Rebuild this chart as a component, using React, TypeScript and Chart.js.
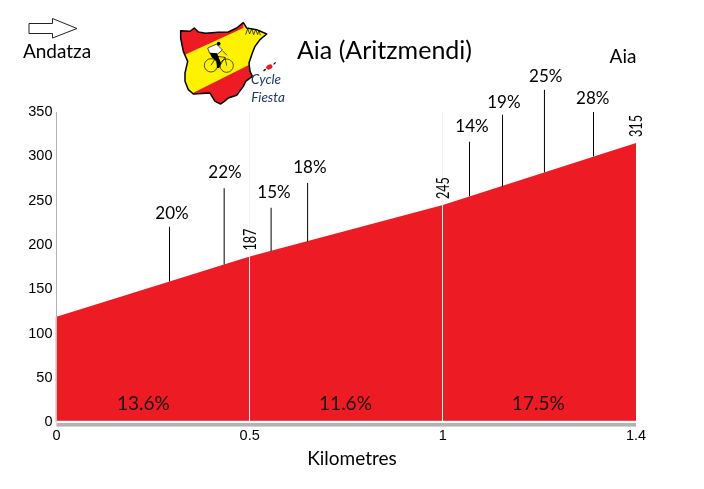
import React, { useEffect, useRef } from 'react';
import { Chart, Plugin, registerables } from 'chart.js';

Chart.register(...registerables);

// The plot axis is evenly spaced per section, the last tick just reads 1.4
const profileKm = [0, 0.5, 1, 1.5];
const profileAltitude = [119, 187, 245, 315];
const xTickLabels = ['0', '0.5', '1', '1.4'];
const yTickValues = [0, 50, 100, 150, 200, 250, 300, 350];

const altitudeLabels = ['187', '245', '315'];
const altitudeLabelKm = [0.5, 1, 1.5];
const altitudeLabelValue = [187, 245, 315];

const sectionGradients = ['13.6%', '11.6%', '17.5%'];
const sectionLabelKm = [0.225, 0.748, 1.247];

const spikeKm = [0.2925, 0.434, 0.5555, 0.65, 1.069, 1.1545, 1.263, 1.39];
const spikeBase = [159, 178, 193, 204, 255, 266, 282, 300];
const spikeTop = [220.5, 264, 242, 270, 316.5, 347, 375, 350];
const spikeGradients = ['20%', '22%', '15%', '18%', '14%', '19%', '25%', '28%'];
const spikeLabelKm = [0.299, 0.436, 0.563, 0.656, 1.0755, 1.158, 1.2665, 1.388];
const spikeLabelValue = [236, 281.5, 259, 287, 333.5, 360.5, 390, 365];

const TITLE = 'Aia (Aritzmendi)';
const START_NAME = 'Andatza';
const END_NAME = 'Aia';
const X_TITLE = 'Kilometres';

const RED = '#ed1c24';
const CALIBRI_LIKE = 'Lato, "Open Sans", sans-serif';
const ARIAL_LIKE = '"Liberation Sans", Arial, sans-serif';

const drawText = (
    ctx: CanvasRenderingContext2D,
    text: string,
    x: number,
    y: number,
    font: string,
    color = '#000000',
    maxWidth?: number,
) => {
    ctx.font = font;
    ctx.fillStyle = color;
    ctx.textAlign = 'center';
    ctx.textBaseline = 'middle';
    if (maxWidth) ctx.fillText(text, x, y, maxWidth);
    else ctx.fillText(text, x, y);
};

const tracePath = (ctx: CanvasRenderingContext2D, pts: number[][]) => {
    ctx.beginPath();
    pts.forEach(([x, y], i) => (i ? ctx.lineTo(x, y) : ctx.moveTo(x, y)));
    ctx.closePath();
};

const drawArrow = (ctx: CanvasRenderingContext2D) => {
    tracePath(ctx, [[29, 23.5], [52.5, 23.5], [52.5, 18.5], [77, 28.5], [52.5, 38], [52.5, 33.5], [29, 33.5]]);
    ctx.fillStyle = '#ffffff';
    ctx.fill();
    ctx.strokeStyle = '#222222';
    ctx.lineWidth = 1;
    ctx.stroke();
};

// Map of Spain with flag stripes and the small cyclist, drawn at 3x then scaled down
const drawLogo = (ctx: CanvasRenderingContext2D) => {
    const outline = [
        [17, 38], [45, 40], [58, 30], [70, 42], [92, 46], [130, 43], [160, 42], [185, 30], [205, 14], [215, 30],
        [245, 35], [275, 48], [255, 65], [240, 85], [232, 105], [222, 135], [225, 160], [232, 175], [212, 190],
        [205, 205], [185, 232], [160, 240], [148, 250], [137, 258], [120, 250], [105, 225], [55, 228], [40, 215],
        [30, 190], [30, 165], [38, 130], [25, 100], [17, 60],
    ];
    ctx.save();
    ctx.translate(175, 18);
    ctx.scale(1 / 3, 1 / 3);

    ctx.save();
    tracePath(ctx, outline);
    ctx.clip();
    ctx.fillStyle = '#fff200';
    ctx.fillRect(0, 0, 300, 270);
    ctx.fillStyle = RED;
    tracePath(ctx, [[0, 124], [205, 30], [205, 0], [0, 0]]);
    ctx.fill();
    tracePath(ctx, [[0, 252], [235, 134], [235, 270], [0, 270]]);
    ctx.fill();
    ctx.restore();

    tracePath(ctx, outline);
    ctx.strokeStyle = '#000000';
    ctx.lineWidth = 4.5;
    ctx.lineJoin = 'round';
    ctx.stroke();

    // cyclist: thin wheels, white jersey with dark shorts
    ctx.lineWidth = 2;
    ctx.beginPath();
    ctx.arc(108, 142, 20, 0, Math.PI * 2);
    ctx.moveTo(175, 143);
    ctx.arc(155, 143, 20, 0, Math.PI * 2);
    ctx.moveTo(108, 142);
    ctx.lineTo(125, 115);
    ctx.lineTo(150, 118);
    ctx.lineTo(155, 143);
    ctx.moveTo(125, 115);
    ctx.lineTo(132, 148);
    ctx.lineTo(150, 118);
    ctx.moveTo(142, 98);
    ctx.lineTo(156, 112);
    ctx.stroke();
    ctx.fillStyle = '#ffffff';
    tracePath(ctx, [[98, 90], [125, 78], [142, 96], [128, 108], [104, 106]]);
    ctx.fill();
    ctx.stroke();
    ctx.fillStyle = '#000000';
    tracePath(ctx, [[104, 104], [126, 106], [138, 135], [132, 150], [126, 150], [124, 128], [110, 118]]);
    ctx.fill();
    ctx.beginPath();
    ctx.arc(131, 77, 5.5, 0, Math.PI * 2);
    ctx.fill();

    // little mountains
    ctx.lineWidth = 2;
    ctx.beginPath();
    ctx.moveTo(212, 50);
    [[218, 32], [224, 48], [230, 32], [236, 50], [242, 34], [248, 50], [252, 36], [256, 52]].forEach(([x, y]) => ctx.lineTo(x, y));
    ctx.stroke();

    // islands
    ctx.fillStyle = RED;
    ctx.beginPath();
    ctx.ellipse(283, 147, 10, 7, -0.5, 0, Math.PI * 2);
    ctx.fill();
    ctx.fillStyle = '#222222';
    ctx.beginPath();
    ctx.ellipse(269, 156, 5, 2.5, -0.6, 0, Math.PI * 2);
    ctx.ellipse(299, 136, 5, 2, -0.8, 0, Math.PI * 2);
    ctx.fill();
    ctx.restore();

    drawText(ctx, 'Cycle', 266, 80, `italic 13.5px ${CALIBRI_LIKE}`, '#1f3864');
    drawText(ctx, 'Fiesta', 268, 98, `italic 13.5px ${CALIBRI_LIKE}`, '#1f3864');
};

const profileDecorations: Plugin<'line'> = {
    id: 'profileDecorations',
    afterDraw: (chart) => {
        const { ctx, chartArea } = chart;
        const x = chart.scales.x;
        const y = chart.scales.y;
        ctx.save();

        // the axis line turns pale where it runs along the red fill
        const startY = y.getPixelForValue(profileAltitude[0]);
        ctx.fillStyle = '#dcdcdc';
        ctx.fillRect(chartArea.left - 1.5, startY, 1.5, chartArea.bottom - startY);

        // white gap and thick grey base under the red fill
        ctx.fillStyle = '#ffffff';
        ctx.fillRect(chartArea.left, chartArea.bottom - 1.6, chartArea.right - chartArea.left, 2.2);
        ctx.fillStyle = '#b3b3b3';
        ctx.fillRect(chartArea.left, chartArea.bottom + 0.6, chartArea.right - chartArea.left, 3.6);

        spikeGradients.forEach((text, i) => {
            drawText(ctx, text, x.getPixelForValue(spikeLabelKm[i]), y.getPixelForValue(spikeLabelValue[i]), `17px ${CALIBRI_LIKE}`);
        });

        sectionGradients.forEach((text, i) => {
            drawText(ctx, text, x.getPixelForValue(sectionLabelKm[i]), chartArea.bottom - 19, `19px ${CALIBRI_LIKE}`, '#1a1010');
        });

        altitudeLabels.forEach((text, i) => {
            ctx.save();
            ctx.translate(x.getPixelForValue(altitudeLabelKm[i]) + 0.8, y.getPixelForValue(altitudeLabelValue[i]) - 17);
            ctx.rotate(-Math.PI / 2);
            drawText(ctx, text, 0, 0, `17px ${CALIBRI_LIKE}`, '#000000', 22);
            ctx.restore();
        });

        drawText(ctx, TITLE, 384.5, 51, `25px ${CALIBRI_LIKE}`);
        drawText(ctx, START_NAME, 57, 52, `19px ${CALIBRI_LIKE}`);
        drawText(ctx, END_NAME, 623, 57, `19px ${CALIBRI_LIKE}`);
        drawText(ctx, X_TITLE, 352, 459, `19px ${CALIBRI_LIKE}`);

        drawArrow(ctx);
        drawLogo(ctx);
        ctx.restore();
    },
};

const App: React.FC = () => {
    const chartRef = useRef<HTMLCanvasElement | null>(null);

    useEffect(() => {
        if (!chartRef.current) return;

        const newChart = new Chart(chartRef.current, {
            type: 'line',
            data: {
                datasets: [
                    ...spikeKm.map((km, i) => ({
                        label: spikeGradients[i],
                        data: [
                            { x: km, y: spikeBase[i] },
                            { x: km, y: spikeTop[i] },
                        ],
                        borderColor: '#000000',
                        borderWidth: 1,
                        pointRadius: 0,
                        clip: false as const,
                        fill: false,
                    })),
                    {
                        label: 'Altitude',
                        data: profileKm.map((km, i) => ({ x: km, y: profileAltitude[i] })),
                        borderColor: RED,
                        borderWidth: 0,
                        backgroundColor: RED,
                        pointRadius: 0,
                        fill: 'origin',
                        tension: 0,
                    },
                ],
            },
            options: {
                responsive: false,
                animation: false,
                layout: { padding: { left: 0, top: 112, right: 68, bottom: 0 } },
                plugins: {
                    legend: { display: false },
                    tooltip: { enabled: false },
                },
                scales: {
                    x: {
                        type: 'linear',
                        min: 0,
                        max: 1.5,
                        afterFit: (scale) => {
                            scale.height = 66.6;
                        },
                        afterBuildTicks: (scale) => {
                            scale.ticks = profileKm.map((value) => ({ value }));
                        },
                        grid: {
                            z: 1,
                            drawTicks: false,
                            color: (c) => (c.tick && (c.tick.value === 0.5 || c.tick.value === 1) ? '#f2f2f2' : 'rgba(0,0,0,0)'),
                        },
                        border: { display: false },
                        ticks: {
                            autoSkip: false,
                            maxRotation: 0,
                            padding: 5,
                            color: '#000000',
                            font: { family: ARIAL_LIKE, size: 14.5 },
                            callback: (_value, index) => xTickLabels[index],
                        },
                    },
                    y: {
                        min: 0,
                        max: 350,
                        afterFit: (scale) => {
                            scale.width = 56.5;
                        },
                        afterBuildTicks: (scale) => {
                            scale.ticks = yTickValues.map((value) => ({ value }));
                        },
                        grid: { display: false, drawTicks: false, tickLength: 0 },
                        border: { display: true, color: '#b3b3b3', width: 1 },
                        ticks: {
                            padding: 4,
                            color: '#000000',
                            font: { family: ARIAL_LIKE, size: 14.5 },
                        },
                    },
                },
            },
            plugins: [profileDecorations],
        });

        return () => {
            newChart.destroy();
        };
    }, []);

    return (
        <div style={{ position: 'absolute', left: 0, top: 0, width: 704, height: 489 }}>
            <canvas ref={chartRef} width={704} height={489} style={{ display: 'block' }} />
        </div>
    );
};

export default App;
